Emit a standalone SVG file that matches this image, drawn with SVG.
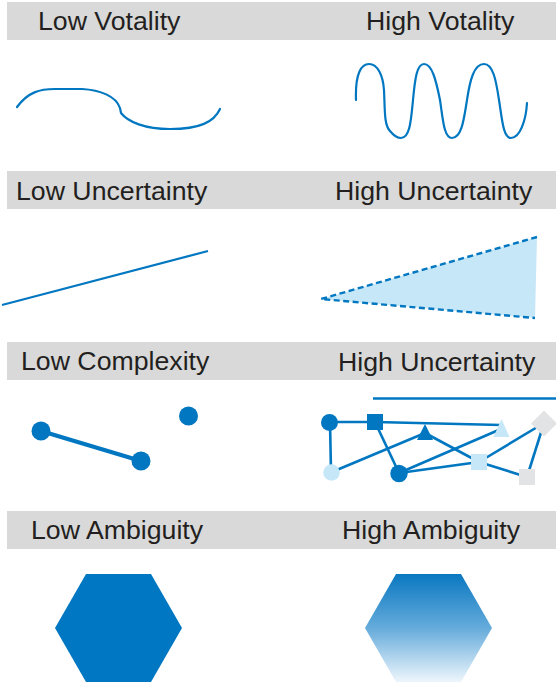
<svg xmlns="http://www.w3.org/2000/svg" width="556" height="685" viewBox="0 0 556 685">
<style>
.band{fill:#d9d9d9}
.lbl{font-family:"Liberation Sans",Arial,sans-serif;font-size:26.7px;fill:#231f20}
.curve{fill:none;stroke:#0077c0;stroke-width:2.2;stroke-linecap:round;stroke-linejoin:round}
.edge{stroke:#0077c0;stroke-width:2.6;fill:none}
.dark{fill:#0077c0}
.light{fill:#c6e7f8}
.gray{fill:#e2e3e5}
</style>
<defs>
<linearGradient id="amb" x1="0" y1="0" x2="0" y2="1">
<stop offset="0" stop-color="#0a78c1"/>
<stop offset="0.5" stop-color="#65abdb"/>
<stop offset="1" stop-color="#eef6fc"/>
</linearGradient>
</defs>
<rect width="556" height="685" fill="#ffffff"/>

<g id="headers">
<rect class="band" x="7" y="2" width="549" height="38"/>
<rect class="band" x="7" y="171" width="549" height="38"/>
<rect class="band" x="7" y="342" width="549" height="38"/>
<rect class="band" x="7" y="511" width="549" height="38"/>
<text class="lbl" x="38" y="30">Low Votality</text>
<text class="lbl" x="366" y="30">High Votality</text>
<text class="lbl" x="16" y="200">Low Uncertainty</text>
<text class="lbl" x="335" y="200">High Uncertainty</text>
<text class="lbl" x="21" y="370">Low Complexity</text>
<text class="lbl" x="338" y="371">High Uncertainty</text>
<text class="lbl" x="31" y="539">Low Ambiguity</text>
<text class="lbl" x="342" y="539">High Ambiguity</text>
</g>

<g id="low-volatility">
<path class="curve" d="M17,107 C28,92 40,89 55,89 L82,89 C100,90 116,96 120,108 L121,113 C128,122 145,129 170,129 C200,129 214,122 220,109"/>
</g>
<g id="high-volatility">
<path class="curve" d="M356,100 C355,72 362,64 369,64 C378,64 383,76 384,90 C385,110 384,125 390,131 C394,136 398,138 401,138 C410,138 411,120 413,100 C415,78 417,64 424,64 C432,64 436,80 440,100 C443,120 444,138 452,138 C462,138 464,118 467,100 C470,80 474,64 484,64 C493,64 496,80 499,100 C502,118 503,138 511,138 C520,138 526,120 527,103"/>
</g>

<g id="low-uncertainty">
<line x1="2" y1="305" x2="208" y2="251" stroke="#0077c0" stroke-width="2.2"/>
</g>
<g id="high-uncertainty">
<polygon points="321,299 537,237 535,318" fill="#c6e7f8"/>
<polyline points="537,237 321,299 535,318" fill="none" stroke="#0077c0" stroke-width="2.4" stroke-dasharray="6,3.5"/>
</g>

<g id="low-complexity">
<line x1="41" y1="431" x2="141" y2="461" stroke="#0077c0" stroke-width="4"/>
<circle class="dark" cx="41" cy="431" r="9.5"/>
<circle class="dark" cx="141" cy="461" r="9.5"/>
<circle class="dark" cx="188.5" cy="416" r="9.5"/>
</g>

<g id="connectors">
<line class="edge" x1="373" y1="398.5" x2="556" y2="398.5"/>
<line class="edge" x1="329" y1="422" x2="375" y2="422"/>
<line class="edge" x1="375" y1="422" x2="501" y2="425"/>
<line class="edge" x1="330" y1="422" x2="331" y2="472"/>
<line class="edge" x1="375" y1="422" x2="399" y2="473"/>
<line class="edge" x1="332" y1="472" x2="425" y2="433"/>
<line class="edge" x1="425" y1="433" x2="479" y2="462"/>
<line class="edge" x1="479" y1="462" x2="527" y2="477"/>
<line class="edge" x1="399" y1="473" x2="501" y2="429"/>
<line class="edge" x1="399" y1="473" x2="479" y2="462"/>
<line class="edge" x1="479" y1="462" x2="544" y2="423"/>
<line class="edge" x1="544" y1="423" x2="527" y2="477"/>
</g>
<g id="node-a"><circle class="dark" cx="329.5" cy="422.5" r="8.5"/></g>
<g id="node-b"><rect class="dark" x="367" y="414" width="16" height="16"/></g>
<g id="node-c"><polygon class="dark" points="425,424 433,440 417,440"/></g>
<g id="node-d"><polygon class="light" points="501.5,419 509.5,437 493.5,437"/></g>
<g id="node-e"><polygon class="gray" points="544,410.5 557,423.5 544,436.5 531,423.5"/></g>
<g id="node-f"><circle class="light" cx="331.5" cy="472.5" r="8.3"/></g>
<g id="node-g"><circle class="dark" cx="399" cy="473.5" r="8.7"/></g>
<g id="node-h"><rect class="light" x="471" y="454" width="16" height="16"/></g>
<g id="node-i"><rect class="gray" x="519" y="469" width="16" height="16"/></g>

<g id="low-ambiguity">
<polygon points="86,574 151,574 182,628 151,682 86,682 55,628" fill="#0077c2"/>
</g>
<g id="high-ambiguity">
<polygon points="396,574 461,574 492,628 461,682 396,682 365,628" fill="url(#amb)"/>
</g>
</svg>
